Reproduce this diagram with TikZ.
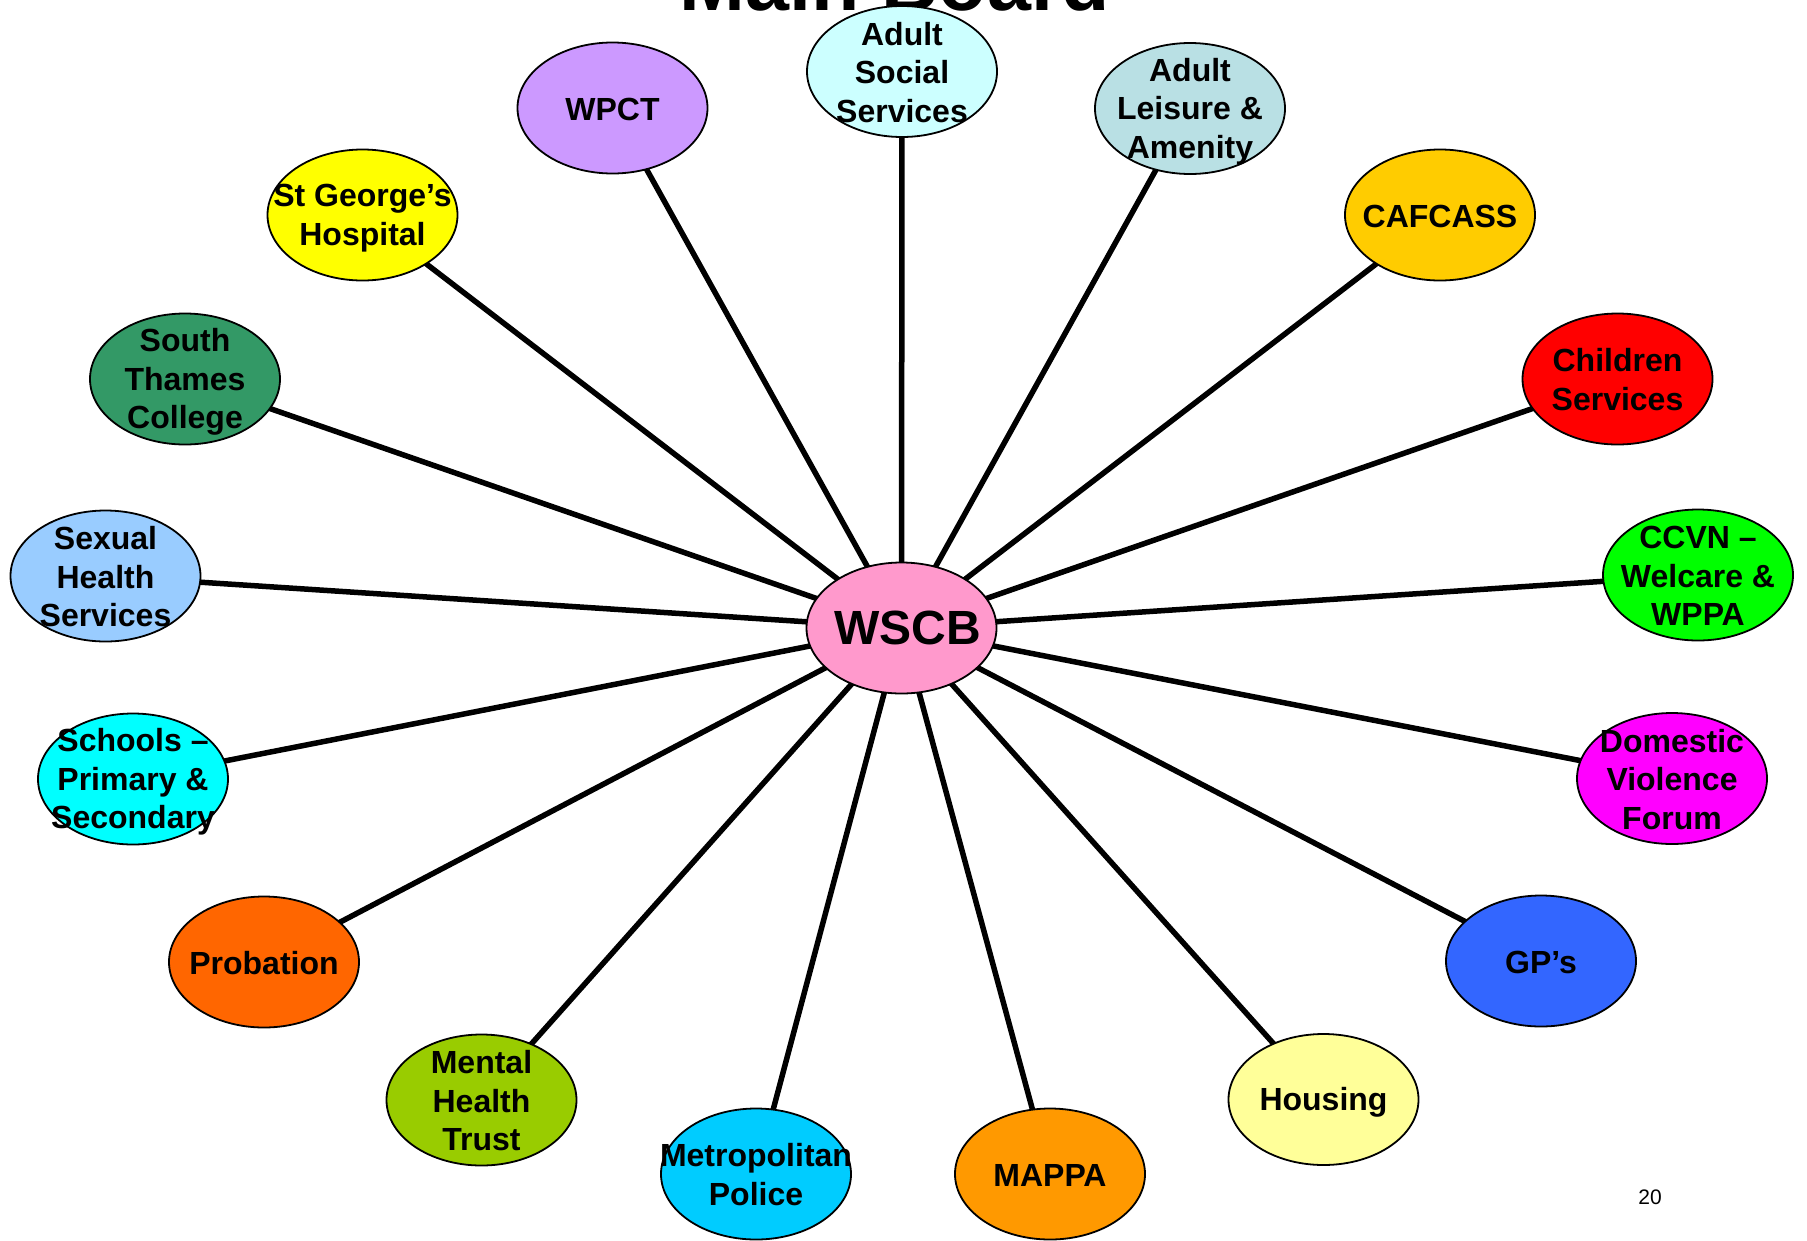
\documentclass[tikz,border=0pt]{standalone}
\usepackage{fontspec}
\setmainfont{Liberation Sans}
\usetikzlibrary{shapes.geometric}
\pgfdeclarelayer{paper}
\pgfdeclarelayer{lines}
\pgfsetlayers{paper,lines,main}
\definecolor{cWSCB}{HTML}{FF99CC}
\definecolor{cASS}{HTML}{CCFFFF}
\definecolor{cWPCT}{HTML}{CC99FF}
\definecolor{cALA}{HTML}{B9E0E4}
\definecolor{cSTG}{HTML}{FFFF00}
\definecolor{cCAF}{HTML}{FFCC00}
\definecolor{cSTC}{HTML}{339966}
\definecolor{cCS}{HTML}{FF0000}
\definecolor{cSHS}{HTML}{99CCFF}
\definecolor{cCCVN}{HTML}{00FF00}
\definecolor{cSCH}{HTML}{00FFFF}
\definecolor{cDVF}{HTML}{FF00FF}
\definecolor{cPROB}{HTML}{FF6600}
\definecolor{cGP}{HTML}{3366FF}
\definecolor{cMHT}{HTML}{99CC00}
\definecolor{cHOUS}{HTML}{FFFF99}
\definecolor{cMET}{HTML}{00CCFF}
\definecolor{cMAPPA}{HTML}{FF9900}
\tikzset{
  orgbox/.style={ellipse, draw=black, line width=1.8pt, minimum width=190pt, minimum height=131pt, inner sep=0pt},
  lbl/.style={align=center, inner sep=0pt, font=\bfseries\fontsize{32}{38.5}\selectfont},
  hublbl/.style={inner sep=0pt, font=\bfseries\fontsize{48}{56}\selectfont},
  link/.style={line width=5.5pt, draw=black},
}
\newcommand\topstrut{\rule[0pt]{0pt}{29pt}}
\newcommand\botstrut{\rule[-5pt]{0pt}{5pt}}
\newcommand\orgnode[5]{%
  \node[orgbox, fill=#4] (#1) at (#2,#3) {};
  \node[lbl] (#1-t) at (#1.center) {\topstrut#5\botstrut};
}
\begin{document}
\begin{tikzpicture}[x=1pt, y=-1pt]
\useasboundingbox (0,0) rectangle (1807,1240);
\clip (0,0) rectangle (1807,1240);
\begin{pgfonlayer}{paper}
  \fill[white] (0,0) rectangle (1807,1240);
\end{pgfonlayer}

\node[anchor=base, inner sep=0pt, font=\bfseries\fontsize{79}{90}\selectfont] (title) at (895,10) {Main Board};

\node[orgbox, fill=cWSCB] (wscb) at (901.5,628) {};
\node[hublbl, xshift=6pt] (wscb-t) at (wscb.center) {WSCB};

\orgnode{ass}{902}{71.5}{cASS}{Adult\\Social\\Services}
\orgnode{wpct}{612.5}{108}{cWPCT}{WPCT}
\orgnode{ala}{1190}{108.5}{cALA}{Adult\\Leisure \&\\Amenity}
\orgnode{stg}{362.5}{215}{cSTG}{St George’s\\Hospital}
\orgnode{caf}{1440}{215}{cCAF}{CAFCASS}
\orgnode{stc}{185}{379}{cSTC}{South\\Thames\\College}
\orgnode{cs}{1617.5}{379}{cCS}{Children\\Services}
\orgnode{shs}{105.5}{576}{cSHS}{Sexual\\Health\\Services}
\orgnode{ccvn}{1698}{575}{cCCVN}{CCVN –\\Welcare \&\\WPPA}
\orgnode{sch}{133}{779}{cSCH}{Schools –\\Primary \&\\Secondary}
\orgnode{dvf}{1672}{778.5}{cDVF}{Domestic\\Violence\\Forum}
\orgnode{prob}{264}{962}{cPROB}{Probation}
\orgnode{gp}{1541}{961}{cGP}{GP’s}
\orgnode{mht}{481.5}{1100}{cMHT}{Mental\\Health\\Trust}
\orgnode{hous}{1323.5}{1099.5}{cHOUS}{Housing}
\orgnode{met}{756}{1174}{cMET}{Metropolitan\\Police}
\orgnode{mappa}{1050}{1174}{cMAPPA}{MAPPA}

\node[inner sep=0pt, font=\fontsize{21}{25}\selectfont] (pagenum) at (1650,1197) {20};

\begin{pgfonlayer}{lines}
  \foreach \n in {ass,wpct,ala,stg,caf,stc,cs,shs,ccvn,sch,dvf,prob,gp,mht,hous,met,mappa}
    \draw[link] (wscb.center) -- (\n.center);
\end{pgfonlayer}
\end{tikzpicture}
\end{document}
